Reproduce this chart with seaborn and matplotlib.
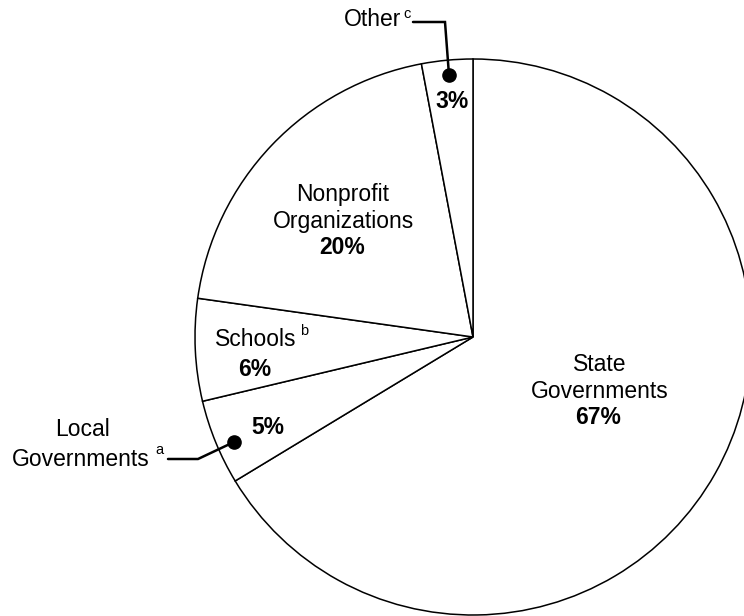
import matplotlib
matplotlib.use("Agg")
import matplotlib.pyplot as plt
import seaborn as sns

# ============================================================
# DADOS
# ============================================================

sectors = ["State Governments", "Local Governments", "Schools",
           "Nonprofit Organizations", "Other"]
shares = [67, 5, 6, 20, 3]
notes = ["", "a", "b", "", "c"]

# ============================================================
# LAYOUT (pixels da imagem 744x616)
# ============================================================

W, H = 744, 616
CX, CY, R = 473, 337, 278


def px(x, y):
    """Converte pixel (x, y) da imagem em coordenadas do pie."""
    return (x - CX) / R, (CY - y) / R


sns.set_theme(style="white")
plt.rcParams['font.family'] = ['Liberation Sans', 'DejaVu Sans']
plt.rcParams['text.color'] = 'black'

fig = plt.figure(figsize=(W / 100, H / 100), dpi=100)
ax = fig.add_axes([0, 0, 1, 1])

ax.pie(shares, startangle=90, counterclock=False,
       colors=['white'] * len(shares),
       wedgeprops=dict(edgecolor='black', linewidth=1.1))

ax.set_xlim(-CX / R, (W - CX) / R)
ax.set_ylim(-(H - CY) / R, CY / R)
ax.set_aspect('auto')
ax.axis('off')

FS = 16.5
SUP = 10.5
pct = [f"{v}%" for v in shares]

# rótulos dentro das fatias
ax.text(*px(600, 378), "State\nGovernments", ha='center', va='center', fontsize=FS)
ax.text(*px(598, 418), pct[0], ha='center', va='center', fontsize=FS, fontweight='bold')

ax.text(*px(343, 208), "Nonprofit\nOrganizations", ha='center', va='center', fontsize=FS)
ax.text(*px(342, 248), pct[3], ha='center', va='center', fontsize=FS, fontweight='bold')

ax.text(*px(256, 340), sectors[2], ha='center', va='center', fontsize=FS)
ax.text(*px(300, 331), notes[2], ha='left', va='center', fontsize=SUP)
ax.text(*px(255, 370), pct[2], ha='center', va='center', fontsize=FS, fontweight='bold')

ax.text(*px(268, 427), pct[1], ha='center', va='center', fontsize=FS, fontweight='bold')
ax.text(*px(452, 102), pct[4], ha='center', va='center', fontsize=FS, fontweight='bold')

# rótulos externos com linhas de chamada
ax.text(*px(82, 429), "Local", ha='center', va='center', fontsize=FS)
ax.text(*px(81, 459), "Governments", ha='center', va='center', fontsize=FS)
ax.text(*px(155, 450), notes[1], ha='left', va='center', fontsize=SUP)

ax.text(*px(373, 20), sectors[4], ha='center', va='center', fontsize=FS)
ax.text(*px(403, 14), notes[4], ha='left', va='center', fontsize=SUP)

for pts in ([(168, 459), (198, 459), (234, 442)],
            [(413, 22), (445, 22), (449, 75)]):
    xs, ys = zip(*[px(*p) for p in pts])
    ax.plot(xs, ys, color='black', linewidth=1.8, solid_joinstyle='miter',
            clip_on=False)
    ax.plot(xs[-1], ys[-1], 'o', color='black', markersize=9.5, clip_on=False)

plt.savefig("out.png", dpi=100)
plt.close()
